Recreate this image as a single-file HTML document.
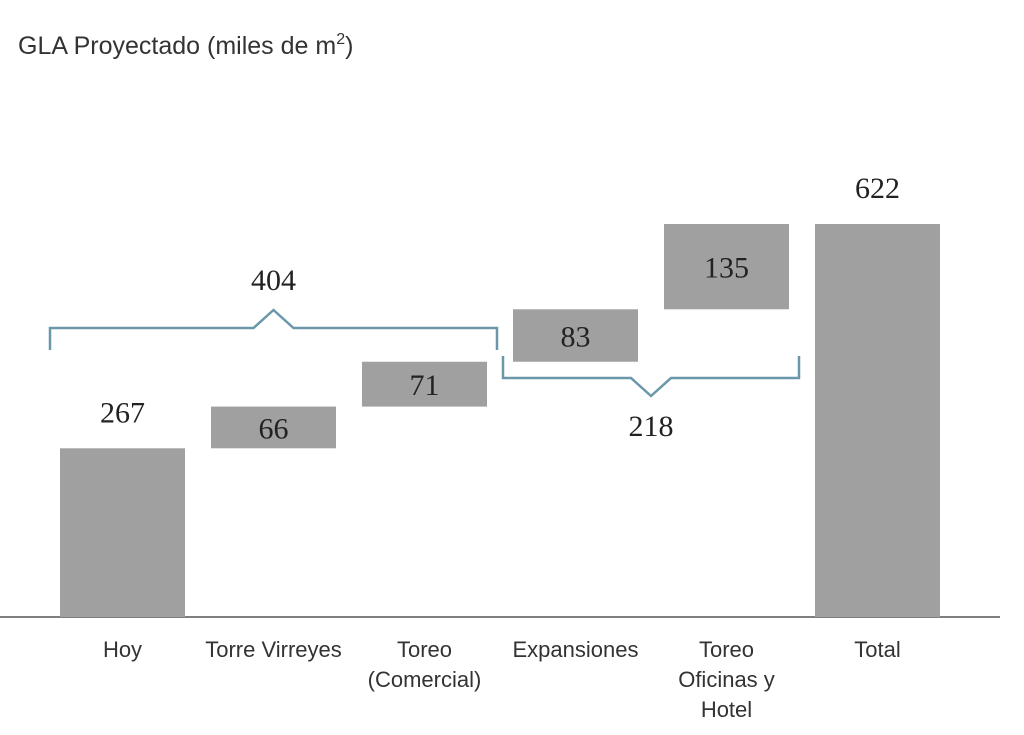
<!DOCTYPE html>
<html><head><meta charset="utf-8"><style>
body{margin:0;background:#fff;width:1024px;height:730px;overflow:hidden}
svg text{font-family:"Liberation Sans",sans-serif}
</style></head><body>
<svg width="1024" height="730" id="c">
<text x="18" y="54" font-size="25" fill="#333">GLA Proyectado (miles de m<tspan dy="-10" font-size="16">2</tspan><tspan dy="10">)</tspan></text>
<line x1="0" y1="617" x2="1000" y2="617" stroke="#555" stroke-width="1.5"/>
</svg>
<script>
const categories=[["Hoy"],["Torre Virreyes"],["Toreo","(Comercial)"],["Expansiones"],["Toreo","Oficinas y","Hotel"],["Total"]];
const values=[267,66,71,83,135,622];
const kinds=["total","step","step","step","step","total"];
const groupA=[0,2,404];
const groupB=[3,4,218];
const svg=document.getElementById('c');
const NS='http://www.w3.org/2000/svg';
const base=617, pxPer=393/622;
const y=v=>base-v*pxPer;
const xL=i=>60+i*151, bw=125;
function mk(t,a){const e=document.createElementNS(NS,t);for(const k in a)e.setAttribute(k,a[k]);svg.appendChild(e);return e;}
let cum=0;
values.forEach((v,i)=>{
  let lo,hi;
  if(kinds[i]==="total"){lo=0;hi=v;cum=v;}else{lo=cum;hi=cum+v;cum=hi;}
  const r=mk('rect',{x:xL(i),y:y(hi),width:bw,height:y(lo)-y(hi),fill:'#a0a0a0'});
  
  
  const ty=kinds[i]==="total"?y(hi)-26:(y(hi)+y(lo))/2+11;
  const t=mk('text',{x:xL(i)+bw/2,y:ty,'text-anchor':'middle','font-size':30,fill:'#222',style:'font-family:"Liberation Serif",serif'});
  t.textContent=v;
  
  
  categories[i].forEach((ln,j)=>{
    const c=mk('text',{x:xL(i)+bw/2,y:657+j*30,'text-anchor':'middle','font-size':22,fill:'#333'});
    c.textContent=ln;
    
    
  });
});
function brace(g,yy,dir,labY){
  const x1=xL(g[0])-10,x2=xL(g[1])+bw+10,m=(x1+x2)/2;
  const d=`M${x1},${yy+22*dir}L${x1},${yy}L${m-20},${yy}L${m},${yy-18*dir}L${m+20},${yy}L${x2},${yy}L${x2},${yy+22*dir}`;
  const p=mk('path',{d:d,fill:'none',stroke:'#6a98aa','stroke-width':2.5});
  
  
  const t=mk('text',{x:m,y:labY,'text-anchor':'middle','font-size':30,fill:'#222',style:'font-family:"Liberation Serif",serif'});
  t.textContent=g[2];
  
  
}
brace(groupA,328,1,290);
brace(groupB,378,-1,436);
</script>
</body></html>
